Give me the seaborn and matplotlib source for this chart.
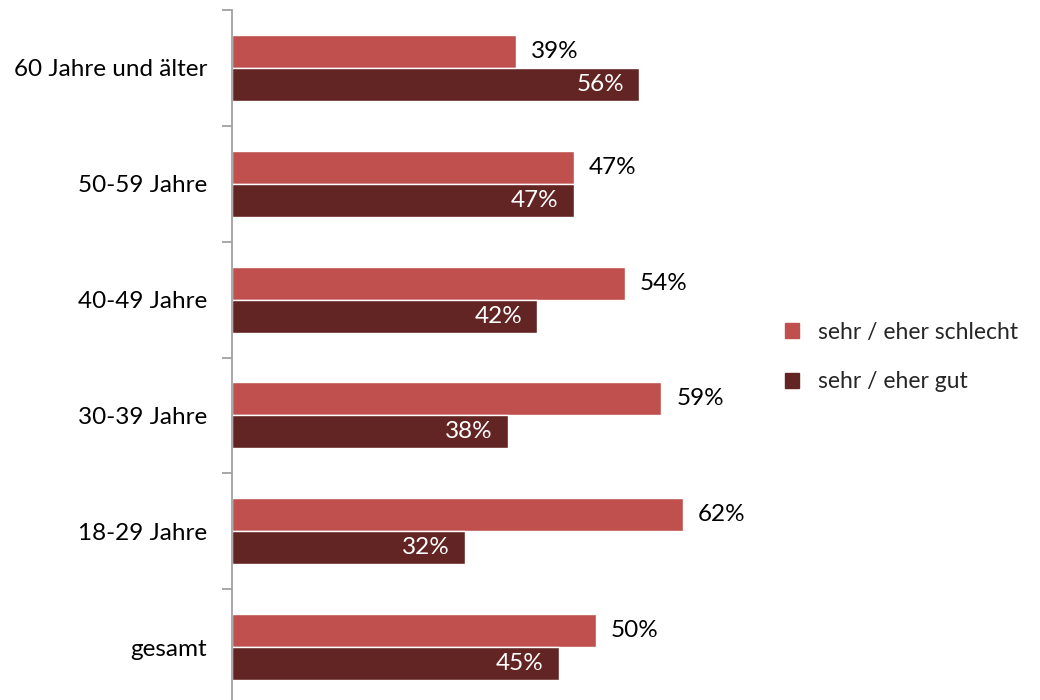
import numpy as np
import pandas as pd
import matplotlib
matplotlib.use("Agg")
import matplotlib.pyplot as plt
import seaborn as sns

categories = ["60 Jahre und älter", "50-59 Jahre", "40-49 Jahre", "30-39 Jahre", "18-29 Jahre", "gesamt"]
series_names = ["sehr / eher schlecht", "sehr / eher gut"]
schlecht = [39, 47, 54, 59, 62, 50]
gut = [56, 47, 42, 38, 32, 45]
colors = ["#C0504D", "#632523"]

sns.set_theme(style="white")
plt.rcParams["font.family"] = ["Lato", "DejaVu Sans"]

FS = 17.5
LFS = 16.5

df = pd.DataFrame({
    "Kategorie": categories * 2,
    "Wert": schlecht + gut,
    "Serie": [series_names[0]] * len(categories) + [series_names[1]] * len(categories),
})

fig = plt.figure(figsize=(10.4, 7.0), dpi=100)
ax = fig.add_axes([232 / 1040, -5 / 700, (70 * 7.27) / 1040, 695 / 700])

sns.barplot(data=df, y="Kategorie", x="Wert", hue="Serie", order=categories,
            hue_order=series_names, palette=colors, orient="h", width=0.57,
            saturation=1, ax=ax, legend=False, errorbar=None)

ax.set_xlim(0, 70)
ax.set_ylim(len(categories) - 0.5, -0.5)
ax.set_xlabel("")
ax.set_ylabel("")
ax.set_xticks([])

for s in ["top", "right", "bottom"]:
    ax.spines[s].set_visible(False)
ax.spines["left"].set_color("#A0A0A0")
ax.spines["left"].set_linewidth(1.3)

ax.set_yticks(np.arange(-0.5, len(categories), 1))
ax.set_yticklabels([])
ax.tick_params(axis="y", which="major", length=7, width=1.3, color="#A0A0A0", direction="out", left=True)
ax.set_yticks(np.arange(len(categories)), minor=True)
ax.set_yticklabels(categories, minor=True, fontsize=FS, color="#000000")
ax.tick_params(axis="y", which="minor", length=0, pad=18)

for cont, name in zip(ax.containers, series_names):
    for rect, v in zip(cont.patches, cont.datavalues):
        y = rect.get_y() + rect.get_height() / 2
        if name == series_names[0]:
            ax.annotate(f"{v:.0f}%", xy=(v, y), xytext=(11, 0), textcoords="offset points",
                        ha="left", va="center", fontsize=FS, color="#000000")
        else:
            ax.annotate(f"{v:.0f}%", xy=(v, y), xytext=(-11, 0), textcoords="offset points",
                        ha="right", va="center", fontsize=FS, color="#FFFFFF")

handles = [plt.Rectangle((0, 0), 1, 1, color=c) for c in colors]
fig.legend(handles, series_names, loc="center left", bbox_to_anchor=(764 / 1040, 1 - 357 / 700),
           frameon=False, fontsize=LFS, handlelength=0.62, handleheight=0.62,
           handletextpad=0.85, labelspacing=1.25)

fig.savefig("out.png", dpi=100)
